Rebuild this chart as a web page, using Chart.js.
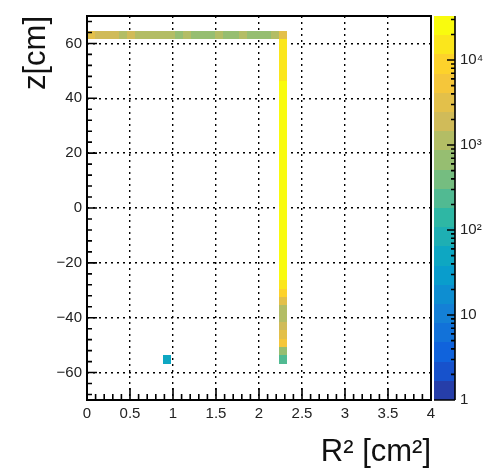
<!DOCTYPE html>
<html>
<head>
<meta charset="utf-8">
<script src="https://cdn.jsdelivr.net/npm/chart.js@4.4.0/dist/chart.umd.min.js"></script>
<style>
  html, body { margin: 0; background: #fff; }
</style>
</head>
<body>
<canvas id="myChart" width="487" height="476"></canvas>
<script>
// binning of the R^2 : z histogram
var binR2 = 0.093;      // cm^2
var binZ = 3.03;        // cm
var rowZ = 62.985;      // z centre of the top row
var columnR2 = 2.2785;  // R^2 centre of the column
var columnZ0 = -55.185; // z centre of the lowest column bin

// entries along the top row, R^2 bins from 0 upwards
var rowCounts = [3000, 1900, 1900, 1700, 1100, 1600, 1200, 1100, 1150, 1050,
                 1100, 750, 1000, 700, 650, 720, 950, 680, 700, 1000,
                 720, 650, 700, 1000, 3200];
// entries up the column, z bins from the bottom (top bin is the last row bin)
var columnCounts = [250, 700, 6500, 3200, 2000, 1300, 1200, 3000, 8500, 14000,
                    23000, 25000, 26000, 24000, 27000, 25500, 26500, 28000, 24500, 26000,
                    27500, 25000, 29000, 26000, 24000, 27000, 28500, 25500, 26000, 24500,
                    27000, 25000, 23500, 22000,
                    15000, 16000, 17000, 15500, 14000];
// the single stray bin
var strayR2 = [0.93];
var strayZ = [-55.185];
var strayCounts = [50];

var xTicks = [0, 0.5, 1, 1.5, 2, 2.5, 3, 3.5, 4];
var yTicks = [-60, -40, -20, 0, 20, 40, 60];
var paletteTicks = [1, 10, 100, 1000, 10000];
var paletteLabels = ['1', '10', '10\u00b2', '10\u00b3', '10\u2074'];
var zMax = 33000;
var nContours = 20;

// ROOT kBird palette
var birdStops = [0, 0.125, 0.25, 0.375, 0.5, 0.625, 0.75, 0.875, 1];
var birdR = [0.2082, 0.0592, 0.0780, 0.0232, 0.1802, 0.5301, 0.8186, 0.9956, 0.9764];
var birdG = [0.1664, 0.3599, 0.5041, 0.6419, 0.7178, 0.7492, 0.7328, 0.7862, 0.9832];
var birdB = [0.5293, 0.8684, 0.8385, 0.7914, 0.6425, 0.4662, 0.3499, 0.1968, 0.0539];

function bird(p) {
  var i = 0;
  while (i < birdStops.length - 2 && p > birdStops[i + 1]) i++;
  var t = (p - birdStops[i]) / (birdStops[i + 1] - birdStops[i]);
  var c = function (a) { return Math.round(255 * (a[i] + t * (a[i + 1] - a[i]))); };
  return 'rgb(' + c(birdR) + ',' + c(birdG) + ',' + c(birdB) + ')';
}
function contourColour(k) {
  return bird(Math.min(1, (k + 0.99) / nContours));
}
function colourFor(n) {
  var k = Math.floor(Math.log10(n) / Math.log10(zMax) * nContours);
  return contourColour(Math.max(0, Math.min(nContours - 1, k)));
}

var cells = [];
rowCounts.forEach(function (n, j) {
  cells.push({x: binR2 / 2 + j * binR2, y: rowZ, n: n});
});
columnCounts.forEach(function (n, i) {
  cells.push({x: columnR2, y: columnZ0 + i * binZ, n: n});
});
strayCounts.forEach(function (n, i) {
  cells.push({x: strayR2[i], y: strayZ[i], n: n});
});

var font = "'Liberation Sans', Arial, Helvetica, sans-serif";

var cellPlugin = {
  id: 'cells',
  beforeDatasetsDraw: function (chart) {
    var ctx = chart.ctx, x = chart.scales.x, y = chart.scales.y;
    ctx.save();
    chart.data.datasets[0].data.forEach(function (c) {
      var x0 = Math.round(x.getPixelForValue(c.x - binR2 / 2));
      var x1 = Math.round(x.getPixelForValue(c.x + binR2 / 2));
      var y0 = Math.round(y.getPixelForValue(c.y + binZ / 2));
      var y1 = Math.round(y.getPixelForValue(c.y - binZ / 2));
      ctx.fillStyle = colourFor(c.n);
      ctx.fillRect(x0, y0, x1 - x0, y1 - y0);
    });
    ctx.restore();
  }
};

var framePlugin = {
  id: 'frame',
  afterDraw: function (chart) {
    var ctx = chart.ctx, a = chart.chartArea;
    var x = chart.scales.x, y = chart.scales.y, pal = chart.scales.pal;
    ctx.save();
    ctx.strokeStyle = '#000';
    ctx.lineWidth = 1.6;
    ctx.beginPath();
    // ticks inside the frame, 5 subdivisions per major step
    for (var i = 0; i <= 40; i++) {
      var px = x.getPixelForValue(i * 0.1);
      ctx.moveTo(px, a.bottom);
      ctx.lineTo(px, a.bottom - (i % 5 === 0 ? 12 : 6));
    }
    for (var v = -68; v <= 68; v += 4) {
      var py = y.getPixelForValue(v);
      ctx.moveTo(a.left, py);
      ctx.lineTo(a.left + (v % 20 === 0 ? 10 : 5), py);
    }
    ctx.stroke();
    ctx.lineWidth = 2;
    ctx.strokeRect(a.left, a.top, a.right - a.left, a.bottom - a.top);

    // colour palette
    var pl = pal.left + 3, pr = pal.left + 24;
    var lmax = Math.log10(zMax);
    for (var k = 0; k < nContours; k++) {
      var yb = Math.round(pal.getPixelForValue(Math.pow(10, k * lmax / nContours)));
      var yt = Math.round(pal.getPixelForValue(Math.pow(10, (k + 1) * lmax / nContours)));
      ctx.fillStyle = contourColour(k);
      ctx.fillRect(pl, yt, pr - pl, yb - yt);
    }
    ctx.lineWidth = 1.6;
    ctx.beginPath();
    ctx.moveTo(pr, pal.top);
    ctx.lineTo(pr, pal.bottom);
    for (var d = 1; d <= zMax; d *= 10) {
      for (var m = 1; m <= 9; m++) {
        var val = d * m;
        if (val > zMax) break;
        var ty = pal.getPixelForValue(val);
        ctx.moveTo(pr, ty);
        ctx.lineTo(pr - (m === 1 ? 8 : 4), ty);
      }
    }
    ctx.moveTo(pl, pal.bottom);
    ctx.lineTo(pr, pal.bottom);
    ctx.stroke();
    ctx.restore();
  }
};

var ctx = document.getElementById('myChart').getContext('2d');
var chart = new Chart(ctx, {
  type: 'scatter',
  data: {
    datasets: [{
      data: cells,
      pointRadius: 0,
      pointHoverRadius: 0
    }]
  },
  options: {
    responsive: false,
    animation: false,
    events: [],
    layout: { padding: { top: 16, left: 0, right: 0, bottom: 0 } },
    plugins: { legend: { display: false }, tooltip: { enabled: false } },
    scales: {
      x: {
        type: 'linear', min: 0, max: 4, z: 1,
        afterFit: function (s) { s.height = 76; },
        afterBuildTicks: function (s) { s.ticks = xTicks.map(function (v) { return {value: v}; }); },
        grid: { color: '#000', lineWidth: 1.4, drawTicks: false },
        border: { display: false, dash: [2, 4] },
        ticks: {
          autoSkip: false, maxRotation: 0, padding: 5, color: '#222',
          font: { family: font, size: 15 },
          callback: function (v) { return String(v); }
        },
        title: {
          display: true, text: 'R\u00b2 [cm\u00b2]', align: 'end', color: '#111',
          font: { family: font, size: 31 }, padding: { top: 0, bottom: 5 }
        }
      },
      y: {
        type: 'linear', min: -70, max: 70, z: 1,
        afterFit: function (s) { s.width = 87; },
        afterBuildTicks: function (s) { s.ticks = yTicks.map(function (v) { return {value: v}; }); },
        grid: { color: '#000', lineWidth: 1.4, drawTicks: false },
        border: { display: false, dash: [2, 4] },
        ticks: {
          autoSkip: false, padding: 5, color: '#222',
          font: { family: font, size: 15 },
          callback: function (v) { return v < 0 ? '\u2212' + Math.abs(v) : String(v); }
        },
        title: {
          display: true, text: 'z[cm]', align: 'end', color: '#111',
          font: { family: font, size: 31 }, padding: { top: 18, bottom: 0 }
        }
      },
      pal: {
        type: 'logarithmic', position: 'right', min: 1, max: zMax,
        afterFit: function (s) { s.width = 56; },
        afterBuildTicks: function (s) { s.ticks = paletteTicks.map(function (v) { return {value: v}; }); },
        grid: { display: true, drawOnChartArea: false, drawTicks: true, tickLength: 25, tickWidth: 0 },
        border: { display: false },
        ticks: {
          autoSkip: false, padding: 4, color: '#222',
          font: { family: font, size: 15 },
          callback: function (v, i) { return paletteLabels[i]; }
        }
      }
    }
  },
  plugins: [cellPlugin, framePlugin]
});
</script>
</body>
</html>
